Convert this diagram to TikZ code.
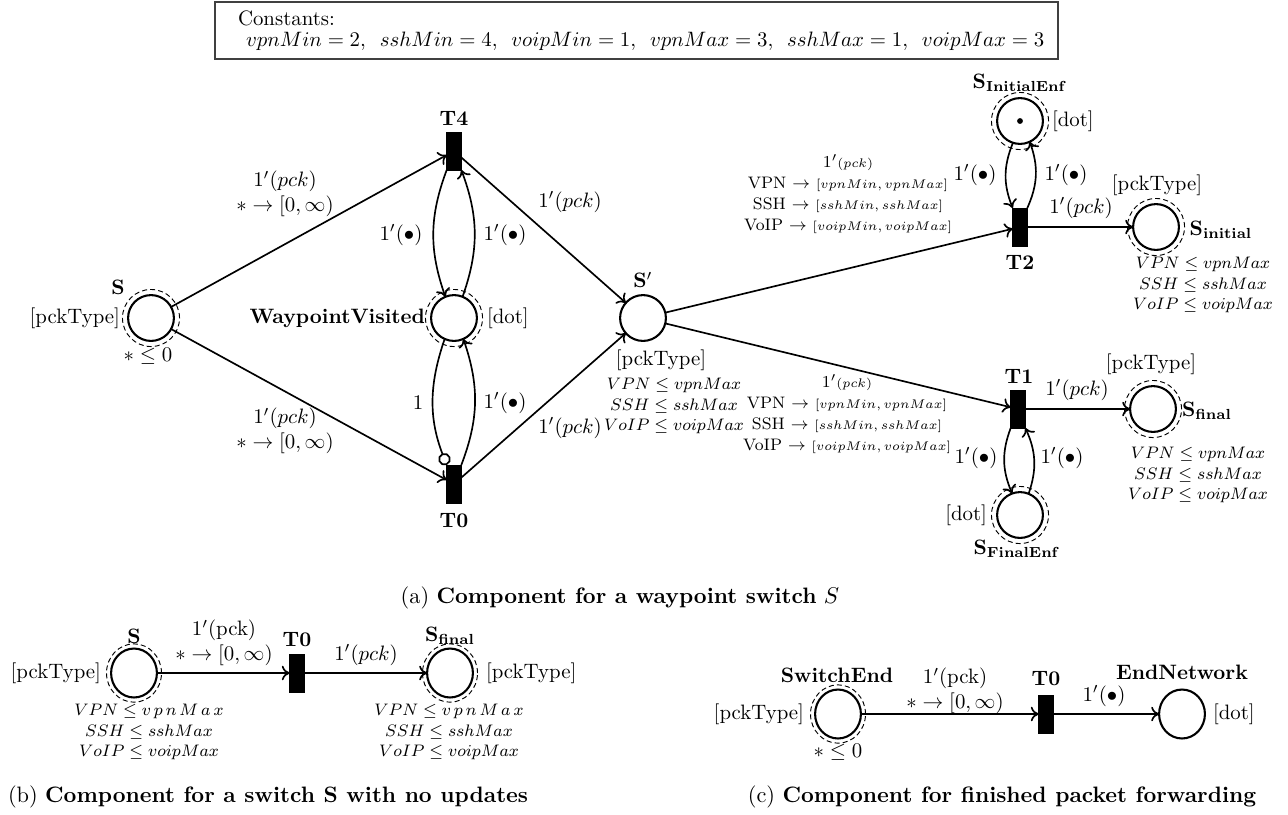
\documentclass[tikz,border=0pt]{standalone}
\usetikzlibrary{arrows.meta,shapes.geometric,calc}
\begin{document}
\begin{tikzpicture}[x=0.48pt,y=-0.48pt,
  every node/.style={inner sep=0pt, outer sep=0pt},
  pnplace/.style={circle, draw, line width=1pt, minimum size=22pt},
  pnoval/.style={ellipse, draw, line width=1pt, minimum width=22pt, minimum height=23.5pt},
  pntrans/.style={rectangle, fill=black, draw=black, line width=0.4pt, minimum width=7pt, minimum height=18.2pt},
  pnring/.style={line width=0.45pt, dash pattern=on 2.4pt off 1.5pt},
  pnarc/.style={-{To[length=3.8pt,width=7pt]}, line width=0.8pt},
  pninh/.style={-{Circle[open,length=6pt,width=6pt]}, line width=0.8pt},
  bname/.style={font=\bfseries},
  guardtext/.style={font=\fontsize{8}{10}\selectfont, align=center},
  captext/.style={font=\fontsize{10.7}{13}\selectfont}
]
\useasboundingbox (0,0) rectangle (1288,814);

% ---------- constants ----------
\draw[line width=0.6pt, black!75] (215,2) rectangle (1058,59);
\node[anchor=west] (ctitle) at (238,18) {Constants:};
\node[anchor=west] (cvals) at (246,41) {$vpnMin=2,\enspace sshMin=4,\enspace voipMin=1,\enspace vpnMax=3,\enspace sshMax=1,\enspace voipMax=3$};

% ---------- (a) waypoint switch ----------
\node[pnplace] (S)  at (151,318) {};
\node[pnplace] (WV) at (454,318) {};
\node[pnplace] (Sp) at (643,318) {};
\node[pntrans] (T4) at (454,151) {};
\node[pntrans] (T0) at (454,484) {};
\node[pntrans] (T2) at (1020,227) {};
\node[pntrans] (T1) at (1018,409) {};
\node[pnplace] (SIE) at (1020,121) {};
\node[pnplace] (Sini) at (1156,227) {};
\node[pnplace] (Sfin) at (1153,409) {};
\node[pnplace] (SFE) at (1020,515) {};
\fill (SIE.center) circle[radius=1.4pt];

\foreach \p in {S,WV,SIE,Sini,Sfin,SFE}
  \draw[pnring] (\p.center) circle[radius=13.7pt];

% names and colour sets
\node[bname] (Slab) at (118,287) {S};
\node[anchor=east] (Stype) at (120,318) {[pckType]};
\node (Sguard) at (148,356) {$*\leq 0$};
\node[bname] (T4lab) at (454,118) {T4};
\node[bname] (T0lab) at (454,521) {T0};
\node[bname,anchor=east] (WVlab) at (425,318) {WaypointVisited};
\node[anchor=west] (WVtype) at (487,318) {[dot]};
\node (Splab) at (643,280) {$\mathbf{S'}$};
\node (Sptype) at (661,360) {[pckType]};
\node[guardtext] (Spguard) at (674,406) {$VPN\leq vpnMax$\\$SSH\leq sshMax$\\$VoIP\leq voipMax$};
\node[bname] (T2lab) at (1020,262) {T2};
\node[bname] (T1lab) at (1019,376) {T1};
\node (SIElab) at (1020,83) {$\mathbf{S_{InitialEnf}}$};
\node[anchor=west] (SIEtype) at (1052,121) {[dot]};
\node (Sinilab) at (1221,230) {$\mathbf{S_{initial}}$};
\node (Sinitype) at (1157,185) {[pckType]};
\node[guardtext] (Siniguard) at (1203,285) {$VPN\leq vpnMax$\\$SSH\leq sshMax$\\$VoIP\leq voipMax$};
\node (Sfinlab) at (1207,411) {$\mathbf{S_{final}}$};
\node (Sfintype) at (1151,364) {[pckType]};
\node[guardtext] (Sfinguard) at (1198,475) {$VPN\leq vpnMax$\\$SSH\leq sshMax$\\$VoIP\leq voipMax$};
\node (SFElab) at (1017,549) {$\mathbf{S_{FinalEnf}}$};
\node[anchor=east] (SFEtype) at (987,515) {[dot]};

% arcs
\draw[pnarc] (S) -- (T4);
\draw[pnarc] (S) -- (T0);
\draw[pnarc] (T4) -- (Sp);
\draw[pnarc] (T0) -- (Sp);
\draw[pnarc] (T4.south west) to[bend right=20] (WV.112);
\draw[pnarc] (WV.68) to[bend right=20] (T4.south east);
\draw[pninh] (WV.246) to[bend right=20] (T0.north west);
\draw[pnarc] (T0.north east) to[bend right=20] (WV.294);
\draw[pnarc] (Sp) -- (T2);
\draw[pnarc] (Sp) -- (T1);
\draw[pnarc] (T2) -- (Sini);
\draw[pnarc] (T1) -- (Sfin);
\draw[pnarc] (SIE.252) to[bend right=22] (T2.north west);
\draw[pnarc] (T2.north east) to[bend right=22] (SIE.295);
\draw[pnarc] (T1.south west) to[bend right=22] (SFE.110);
\draw[pnarc] (SFE.68) to[bend right=22] (T1.south east);

% arc inscriptions
\node[align=center] (aST4) at (285,194) {$1'(pck)$\\$*\rightarrow[0,\infty)$};
\node[align=center] (aST0) at (285,431) {$1'(pck)$\\$*\rightarrow[0,\infty)$};
\node (aT4Sp) at (570,202) {$1'(pck)$};
\node (aT0Sp) at (570,428) {$1'(pck)$};
\node (aT4WV) at (401,235) {$1'(\bullet)$};
\node (aWVT4) at (505,235) {$1'(\bullet)$};
\node (aWVT0) at (418,403) {$1$};
\node (aT0WV) at (505,403) {$1'(\bullet)$};
\node[guardtext] (aSpT2) at (848,194) {$1'${\fontsize{6.5}{10}\selectfont$(pck)$}\\
  VPN $\rightarrow$ {\fontsize{6.3}{10}\selectfont$[vpnMin, vpnMax]$}\\
  SSH $\rightarrow$ {\fontsize{6.3}{10}\selectfont$[sshMin, sshMax]$}\\
  VoIP $\rightarrow$ {\fontsize{6.3}{10}\selectfont$[voipMin, voipMax]$}};
\node[guardtext] (aSpT1) at (847,414) {$1'${\fontsize{6.5}{10}\selectfont$(pck)$}\\
  VPN $\rightarrow$ {\fontsize{6.3}{10}\selectfont$[vpnMin, vpnMax]$}\\
  SSH $\rightarrow$ {\fontsize{6.3}{10}\selectfont$[sshMin, sshMax]$}\\
  VoIP $\rightarrow$ {\fontsize{6.3}{10}\selectfont$[voipMin, voipMax]$}};
\node (aT2Sini) at (1081,208) {$1'(pck)$};
\node (aT1Sfin) at (1077,390) {$1'(pck)$};
\node (aSIET2) at (975,175) {$1'(\bullet)$};
\node (aT2SIE) at (1066,175) {$1'(\bullet)$};
\node (aT1SFE) at (976,458) {$1'(\bullet)$};
\node (aSFET1) at (1062,458) {$1'(\bullet)$};

\node[captext] (capa) at (620,598) {(a) \textbf{Component for a waypoint switch} $S$};

% ---------- (b) switch without updates ----------
\node[pnoval] (bS) at (134,673) {};
\node[pntrans] (bT0) at (297,673) {};
\node[pnoval] (bSfin) at (450,673) {};
\draw[pnring] (bS.center) ellipse[x radius=13.2pt, y radius=14pt];
\draw[pnring] (bSfin.center) ellipse[x radius=13.2pt, y radius=14pt];
\node[bname] (bSlab) at (134,636) {S};
\node[anchor=east] (bStype) at (101,673) {[pckType]};
\node[guardtext] (bSguard) at (149,732) {$VPN\leq v\,p\,n\,M\,a\,x$\\$SSH\leq sshMax$\\$VoIP\leq voipMax$};
\node[bname] (bT0lab) at (297,640) {T0};
\node (bSfinlab) at (450,636) {$\mathbf{S_{final}}$};
\node[anchor=west] (bSfintype) at (486,673) {[pckType]};
\node[guardtext] (bSfinguard) at (449,732) {$VPN\leq v\,p\,n\,M\,a\,x$\\$SSH\leq sshMax$\\$VoIP\leq voipMax$};
\draw[pnarc] (bS) -- (bT0);
\draw[pnarc] (bT0) -- (bSfin);
\node[align=center] (abST0) at (224,643) {$1'(\mathrm{pck})$\\$*\rightarrow[0,\infty)$};
\node (abT0Sfin) at (366,655) {$1'(pck)$};
\node[captext,anchor=west] (capb) at (8,797) {(b) \textbf{Component for a switch S with no updates}};

% ---------- (c) finished forwarding ----------
\node[pnoval] (cSE) at (838,714) {};
\node[pntrans] (cT0) at (1046,714) {};
\node[pnoval] (cEN) at (1182,714) {};
\draw[pnring] (cSE.center) ellipse[x radius=13.2pt, y radius=14pt];
\node[bname] (cSElab) at (837,675) {SwitchEnd};
\node[anchor=east] (cSEtype) at (804,714) {[pckType]};
\node (cSEguard) at (838,752) {$*\leq 0$};
\node[bname] (cT0lab) at (1046,679) {T0};
\node[bname] (cENlab) at (1182,672) {EndNetwork};
\node[anchor=west] (cENtype) at (1213,714) {[dot]};
\draw[pnarc] (cSE) -- (cT0);
\draw[pnarc] (cT0) -- (cEN);
\node[align=center] (acSET0) at (955,691) {$1'(\mathrm{pck})$\\$*\rightarrow[0,\infty)$};
\node (acT0EN) at (1104,696) {$1'(\bullet)$};
\node[captext] (capc) at (1002,797) {(c) \textbf{Component for finished packet forwarding}};
\end{tikzpicture}
\end{document}
